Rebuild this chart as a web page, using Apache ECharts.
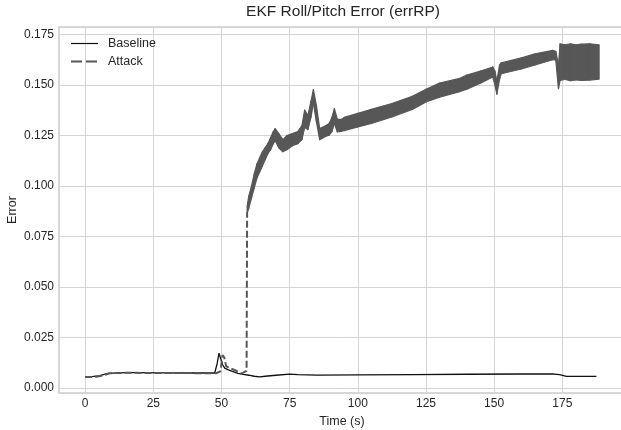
<!DOCTYPE html>
<html>
<head>
<meta charset="utf-8">
<script src="https://cdn.jsdelivr.net/npm/echarts@6/dist/echarts.min.js"></script>
<style>
  html, body { margin: 0; padding: 0; background: #fff; }
  #chart { width: 621px; height: 430px; }
</style>
</head>
<body>
<div id="chart"></div>
<script>
// Baseline run: roll/pitch error over time
const baselineT = [0, 3, 5, 8, 10, 15, 20, 30, 40, 47.5, 48.4, 49.1, 49.7, 50.4, 51.2, 52.5, 54, 56, 58, 60, 62, 64, 66, 70, 75, 78, 85, 100, 120, 140, 160, 172, 174, 176.5, 187.5];
const baselineV = [0.0056, 0.0057, 0.0060, 0.0071, 0.0073, 0.0076, 0.0076, 0.0075, 0.0074, 0.0074, 0.0120, 0.0172, 0.0165, 0.0115, 0.0098, 0.0090, 0.0082, 0.0072, 0.0067, 0.0063, 0.0058, 0.0055, 0.0058, 0.0063, 0.0069, 0.0066, 0.0064, 0.0065, 0.0066, 0.0068, 0.0069, 0.0069, 0.0066, 0.0057, 0.0057];

// Attack run before the jump (dashed trace)
const attackT = [0, 4, 6, 9, 15, 30, 48, 49.6, 50.4, 51.0, 51.7, 53, 55, 57, 58, 59.2, 59.4];
const attackV = [0.0054, 0.0055, 0.0060, 0.0073, 0.0075, 0.0074, 0.0073, 0.0082, 0.0162, 0.0152, 0.0108, 0.0098, 0.0088, 0.0072, 0.0076, 0.0085, 0.0870];

// Attack run after the jump: lower and upper envelope of the oscillation
const bandT = [59.4, 60, 61, 62, 63, 64, 65, 66, 67, 68, 69, 69.7, 71, 72.5, 74, 76, 78, 79.5, 80.5, 81.7, 82.8, 83.7, 84.8, 86, 88.3, 89.5, 90.5, 91.4, 92.5, 94, 95, 100, 105, 112.5, 120, 125, 130, 137, 140, 145, 149.5, 150.3, 151, 152, 152.6, 160, 165, 171.5, 172.6, 173.6, 174.2, 176, 178, 180, 182, 185, 188.5];
const bandLow = [0.0865, 0.089, 0.094, 0.099, 0.104, 0.107, 0.110, 0.113, 0.116, 0.118, 0.121, 0.1225, 0.119, 0.117, 0.118, 0.120, 0.121, 0.123, 0.129, 0.128, 0.134, 0.141, 0.132, 0.123, 0.1247, 0.1252, 0.127, 0.131, 0.1268, 0.1272, 0.1275, 0.1293, 0.131, 0.1343, 0.138, 0.1417, 0.144, 0.1466, 0.148, 0.151, 0.154, 0.150, 0.1455, 0.153, 0.1557, 0.158, 0.160, 0.1626, 0.1625, 0.1483, 0.1524, 0.1528, 0.1522, 0.1526, 0.1523, 0.1525, 0.1530];
const bandHigh = [0.0900, 0.095, 0.100, 0.106, 0.111, 0.114, 0.117, 0.119, 0.121, 0.124, 0.127, 0.1285, 0.126, 0.123, 0.125, 0.126, 0.127, 0.130, 0.1376, 0.135, 0.142, 0.1478, 0.140, 0.1285, 0.130, 0.131, 0.134, 0.1384, 0.133, 0.133, 0.134, 0.136, 0.138, 0.1409, 0.1445, 0.148, 0.151, 0.1532, 0.155, 0.157, 0.159, 0.157, 0.152, 0.160, 0.161, 0.1635, 0.1655, 0.1672, 0.1668, 0.160, 0.1705, 0.1700, 0.1704, 0.1700, 0.1703, 0.1705, 0.1700];

// Tick labels
const xTicks = [0, 25, 50, 75, 100, 125, 150, 175];
const yTicks = [0.000, 0.025, 0.050, 0.075, 0.100, 0.125, 0.150, 0.175];

const pairs = (xs, ys) => xs.map((x, i) => [x, ys[i]]);
const near = (list, v) => list.some(t => Math.abs(t - v) < 1e-9);

const FONT = '"Liberation Sans", Arial, sans-serif';
const TEXT = '#262626';
const GRID = '#d4d4d4';
const ATTACK = '#575757';
const NOFILL = 'rgba(0,0,0,0)';

const chart = echarts.init(document.getElementById('chart'), null, { renderer: 'canvas' });

// Oscillation envelope: one filled quad between consecutive samples
function renderBand(params, api) {
  const i = params.dataIndex;
  if (i >= bandT.length - 1) return null;
  const pts = [
    api.coord([bandT[i], bandHigh[i]]),
    api.coord([bandT[i + 1], bandHigh[i + 1]]),
    api.coord([bandT[i + 1], bandLow[i + 1]]),
    api.coord([bandT[i], bandLow[i]])
  ];
  return {
    type: 'polygon',
    shape: { points: pts },
    style: { fill: ATTACK, stroke: ATTACK, lineWidth: 1.2, lineJoin: 'round' }
  };
}

chart.setOption({
  animation: false,
  backgroundColor: '#ffffff',
  title: {
    text: 'EKF Roll/Pitch Error (errRP)',
    left: 343,
    textAlign: 'center',
    top: 4,
    padding: 0,
    textStyle: { fontFamily: FONT, fontSize: 15.5, fontWeight: 'normal', color: TEXT }
  },
  legend: {
    left: 70,
    top: 37,
    orient: 'vertical',
    itemWidth: 27,
    itemHeight: 14,
    itemGap: 5,
    padding: 0,
    itemStyle: { color: NOFILL, borderColor: NOFILL, borderWidth: 0 },
    textStyle: { fontFamily: FONT, fontSize: 12.5, color: TEXT, padding: [0, 0, 0, 5] },
    data: [
      { name: 'Baseline', lineStyle: { width: 1.2 } },
      { name: 'Attack', lineStyle: { type: [11, 4] } }
    ]
  },
  grid: {
    left: 59,
    top: 27,
    width: 566,
    height: 366,
    outerBoundsMode: 'none',
    containLabel: false,
    show: true,
    borderColor: '#cccccc',
    borderWidth: 1.5,
    backgroundColor: '#ffffff'
  },
  xAxis: {
    type: 'value',
    min: -9.6,
    max: 198,
    minInterval: 25,
    maxInterval: 25,
    name: 'Time (s)',
    nameLocation: 'middle',
    nameGap: 22,
    nameMoveOverlap: false,
    nameTextStyle: { fontFamily: FONT, fontSize: 12.5, color: TEXT },
    axisLine: { show: false },
    axisTick: { show: false },
    axisLabel: {
      margin: 5,
      fontFamily: FONT, fontSize: 12, color: TEXT,
      formatter: v => near(xTicks, v) ? String(Math.round(v)) : ''
    },
    splitLine: { show: true, lineStyle: { color: GRID, width: 1 } }
  },
  yAxis: {
    type: 'value',
    min: -0.0025,
    max: 0.1788,
    minInterval: 0.025,
    maxInterval: 0.025,
    name: 'Error',
    nameLocation: 'middle',
    nameGap: 40,
    nameMoveOverlap: false,
    nameTextStyle: { fontFamily: FONT, fontSize: 12.5, color: TEXT },
    axisLine: { show: false },
    axisTick: { show: false },
    axisLabel: {
      margin: 5,
      fontFamily: FONT, fontSize: 12, color: TEXT,
      formatter: v => near(yTicks, v) ? v.toFixed(3) : ''
    },
    splitLine: { show: true, lineStyle: { color: GRID, width: 1 } }
  },
  series: [
    {
      name: 'Baseline',
      type: 'line',
      data: pairs(baselineT, baselineV),
      showSymbol: false,
      symbol: 'none',
      lineStyle: { color: '#111', width: 1.3 },
      itemStyle: { color: '#111' },
      z: 3
    },
    {
      name: 'Attack',
      type: 'line',
      data: pairs(attackT, attackV),
      showSymbol: false,
      symbol: 'none',
      lineStyle: { color: ATTACK, width: 2, type: [7, 3] },
      itemStyle: { color: ATTACK },
      z: 4
    },
    {
      name: 'attackBand',
      type: 'custom',
      data: bandT.map((t, i) => [t, bandLow[i], bandHigh[i]]),
      encode: { x: 0, y: [1, 2] },
      renderItem: renderBand,
      clip: true,
      z: 4
    }
  ]
});
</script>
</body>
</html>
